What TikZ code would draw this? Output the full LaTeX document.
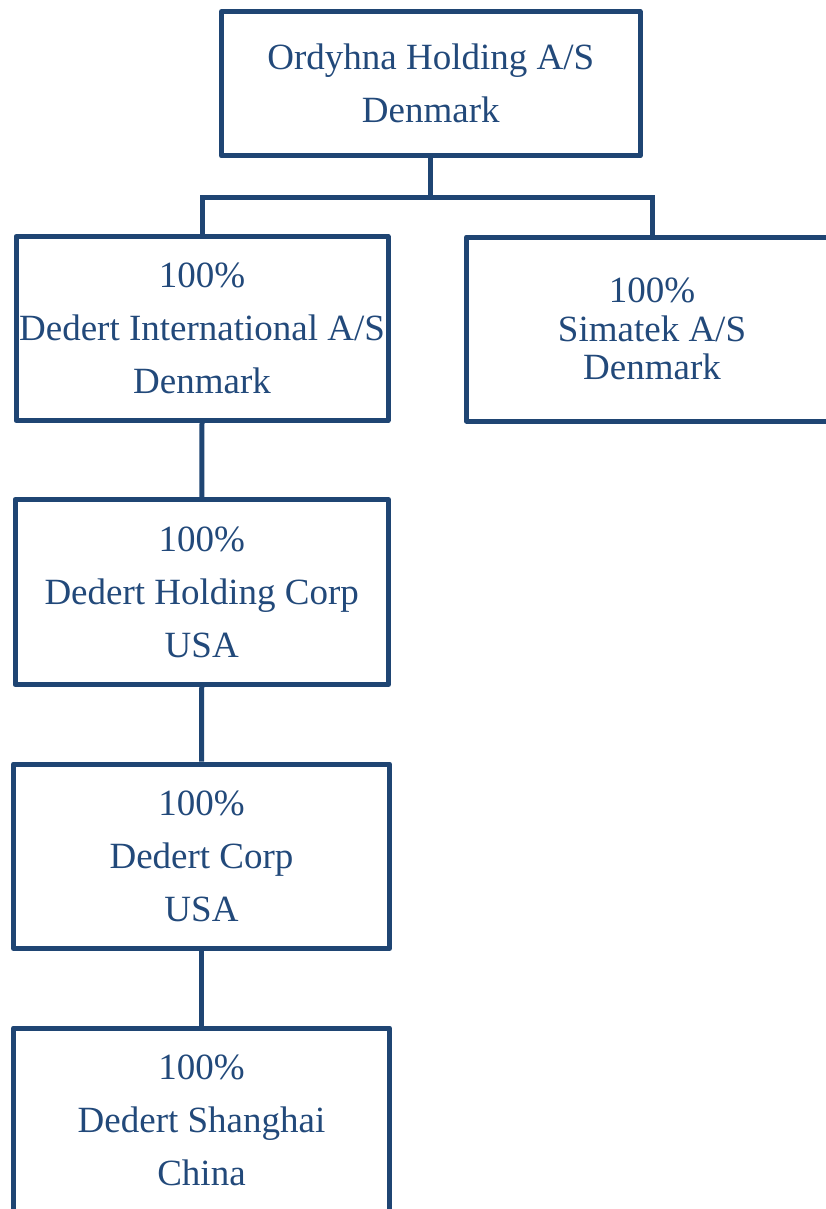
\documentclass[tikz,border=0pt]{standalone}
\usepackage{fontspec}
\setmainfont{Liberation Serif}
\definecolor{navy}{RGB}{31,69,115}
\definecolor{navytext}{RGB}{34,73,122}
\begin{document}
\begin{tikzpicture}[x=1pt,y=-1pt,
  entity/.style={draw=navy, line width=5pt, line join=round, rectangle,
    inner sep=0pt, align=center, text=navytext,
    font=\fontsize{37}{53}\selectfont},
  link/.style={draw=navy, line width=5pt}]
\useasboundingbox (0,0) rectangle (825,1209);

% parent company
\node[entity, minimum width=418.5pt, minimum height=144.5pt]
  (parent) at (430.75,83.75) {Ordyhna Holding A/S\\Denmark};

% first tier
\node[entity, minimum width=372pt, minimum height=184pt]
  (intl) at (202,328.5) {100\%\\Dedert International A/S\\Denmark};
\node[entity, minimum width=371pt, minimum height=184pt,
  font=\fontsize{37}{38.5}\selectfont]
  (simatek) at (652,329) {100\%\\Simatek A/S\\Denmark};

% US chain and China
\node[entity, minimum width=373.5pt, minimum height=185pt]
  (holding) at (201.75,592) {100\%\\Dedert Holding Corp\\USA};
\node[entity, minimum width=376pt, minimum height=184.5pt]
  (corp) at (201.5,856.25) {100\%\\Dedert Corp\\USA};
\node[entity, minimum width=376pt, minimum height=185pt]
  (shanghai) at (201.5,1120.5) {100\%\\Dedert Shanghai\\China};

% connectors
\coordinate (bus) at (430.75,197);
\draw[link] (parent.south) -- (bus);
\draw[link] (intl.north) |- (bus) -| (simatek.north);
\draw[link] (intl.south) -- (holding.north);
\draw[link] (holding.south) -- (corp.north);
\draw[link] (corp.south) -- (shanghai.north);
\end{tikzpicture}
\end{document}
